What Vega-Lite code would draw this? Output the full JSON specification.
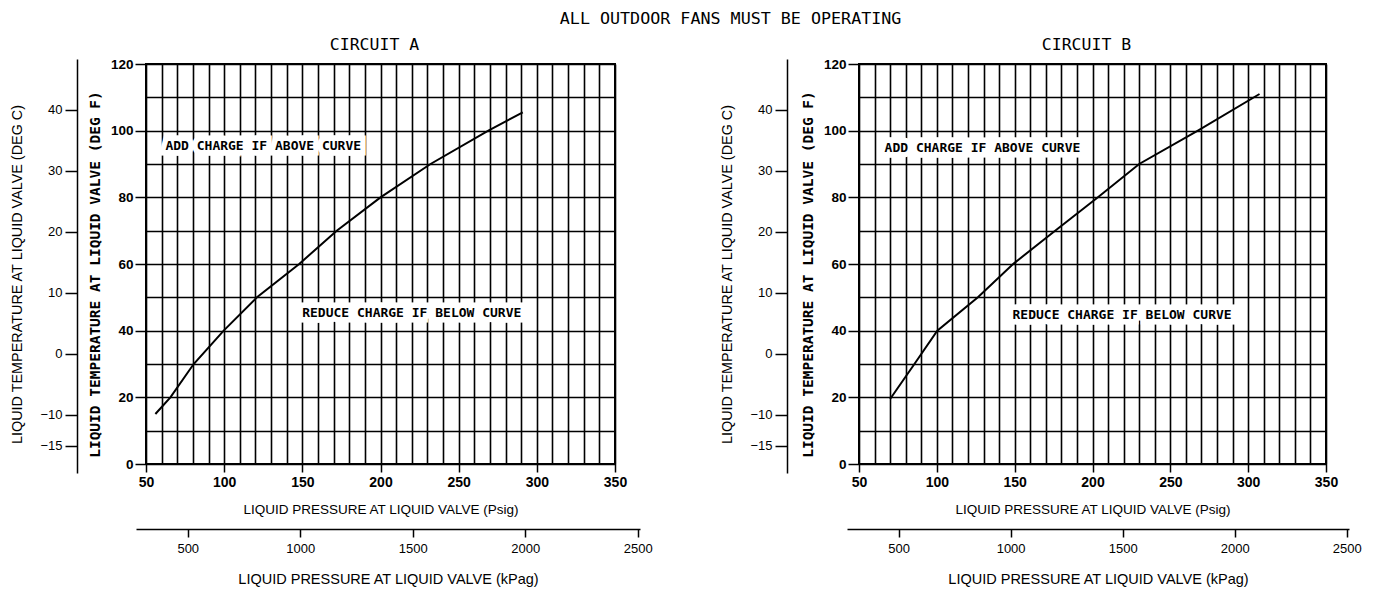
{
  "$schema": "https://vega.github.io/schema/vega-lite/v6.json",
  "background": "white",
  "padding": {"left": 8, "top": 10, "right": 5, "bottom": 5},
  "title": {"text": "ALL OUTDOOR FANS MUST BE OPERATING", "font": "DejaVu Sans Mono", "fontSize": 16.7, "fontWeight": "normal", "color": "black", "anchor": "middle", "dx": 45, "offset": 8.5},
  "config": {
    "view": {"stroke": "black", "strokeWidth": 2},
    "axis": {"labelColor": "black", "titleColor": "black", "tickColor": "black", "domainColor": "black", "tickWidth": 1.5, "domainWidth": 1.5}
  },
  "datasets": {
    "curve": [
      {"circuit": "A", "psig": 56, "degF": 15},
      {"circuit": "A", "psig": 65.6, "degF": 20},
      {"circuit": "A", "psig": 80.5, "degF": 30},
      {"circuit": "A", "psig": 99.7, "degF": 40},
      {"circuit": "A", "psig": 121, "degF": 50},
      {"circuit": "A", "psig": 148, "degF": 60},
      {"circuit": "A", "psig": 172, "degF": 70},
      {"circuit": "A", "psig": 200, "degF": 80},
      {"circuit": "A", "psig": 232, "degF": 90},
      {"circuit": "A", "psig": 269, "degF": 100},
      {"circuit": "A", "psig": 291, "degF": 105.5},
      {"circuit": "B", "psig": 70, "degF": 19.5},
      {"circuit": "B", "psig": 85.6, "degF": 30},
      {"circuit": "B", "psig": 100.3, "degF": 40},
      {"circuit": "B", "psig": 126.4, "degF": 50},
      {"circuit": "B", "psig": 149, "degF": 60},
      {"circuit": "B", "psig": 176, "degF": 70},
      {"circuit": "B", "psig": 203.5, "degF": 80},
      {"circuit": "B", "psig": 230, "degF": 90},
      {"circuit": "B", "psig": 267.7, "degF": 100},
      {"circuit": "B", "psig": 307.3, "degF": 111}
    ],
    "notes": [
      {"circuit": "A", "psig": 125, "degF": 95.4, "text": "ADD CHARGE IF ABOVE CURVE"},
      {"circuit": "A", "psig": 220, "degF": 45.3, "text": "REDUCE CHARGE IF BELOW CURVE"},
      {"circuit": "B", "psig": 129.3, "degF": 94.7, "text": "ADD CHARGE IF ABOVE CURVE"},
      {"circuit": "B", "psig": 219, "degF": 44.8, "text": "REDUCE CHARGE IF BELOW CURVE"}
    ],
    "degC": [{"c": -15}, {"c": 40}],
    "kpa": [{"kpa": 500}, {"kpa": 2500}]
  },
  "spacing": 64,
  "hconcat": [
    {
      "title": {"text": "CIRCUIT A", "font": "DejaVu Sans Mono", "fontSize": 16.5, "fontWeight": "normal", "color": "black", "offset": 3.5, "dx": -6},
      "width": 469,
      "height": 400,
      "layer": [
        {
          "layer": [
            {
              "data": {"name": "curve"},
              "transform": [{"filter": "datum.circuit === 'A'"}],
              "mark": {"type": "line", "color": "black", "strokeWidth": 2},
              "encoding": {
                "x": {"field": "psig", "type": "quantitative", "scale": {"domain": [50, 350], "nice": false, "zero": false},
                  "axis": {"values": [50,60,70,80,90,100,110,120,130,140,150,160,170,180,190,200,210,220,230,240,250,260,270,280,290,300,310,320,330,340,350], "tickCount": 200, "format": "d",
                    "grid": true, "gridColor": "black", "gridWidth": 1.6, "gridOpacity": 1, "domain": false,
                    "tickSize": {"condition": {"test": "datum.value % 50 === 0", "value": 8}, "value": 0},
                    "labelExpr": "datum.value % 50 === 0 ? datum.label : ''", "labelOverlap": false, "labelFlush": false,
                    "labelFont": "Liberation Sans", "labelFontWeight": "bold", "labelFontSize": 14, "labelPadding": 3,
                    "title": "LIQUID PRESSURE AT LIQUID VALVE (Psig)", "titleFont": "Liberation Sans", "titleFontWeight": "normal", "titleFontSize": 13.5, "titlePadding": 13}},
                "y": {"field": "degF", "type": "quantitative", "scale": {"domain": [0, 120], "nice": false, "zero": false},
                  "axis": {"values": [0,10,20,30,40,50,60,70,80,90,100,110,120], "tickCount": 200, "format": "d",
                    "grid": true, "gridColor": "black", "gridWidth": 1.6, "gridOpacity": 1, "domain": false,
                    "tickSize": {"condition": {"test": "datum.value % 20 === 0", "value": 11}, "value": 0},
                    "labelExpr": "datum.value % 20 === 0 ? datum.label : ''", "labelOverlap": false,
                    "labelFont": "Liberation Sans", "labelFontWeight": "bold", "labelFontSize": 13.5, "labelPadding": 2,
                    "title": "LIQUID TEMPERATURE AT LIQUID VALVE (DEG F)", "titleFont": "DejaVu Sans Mono", "titleFontWeight": "bold", "titleFontSize": 14.5, "titlePadding": 8, "titleY": 210}}
              }
            },
            {
              "data": {"name": "notes"},
              "transform": [{"filter": "datum.circuit === 'A'"}],
              "mark": {"type": "text", "font": "DejaVu Sans Mono", "fontWeight": "bold", "fontSize": 13, "fill": "white", "stroke": "white", "strokeWidth": 11},
              "encoding": {"x": {"field": "psig", "type": "quantitative"}, "y": {"field": "degF", "type": "quantitative"}, "text": {"field": "text"}}
            },
            {
              "data": {"name": "notes"},
              "transform": [{"filter": "datum.circuit === 'A'"}],
              "mark": {"type": "text", "font": "DejaVu Sans Mono", "fontWeight": "bold", "fontSize": 13, "fill": "black"},
              "encoding": {"x": {"field": "psig", "type": "quantitative"}, "y": {"field": "degF", "type": "quantitative"}, "text": {"field": "text"}}
            }
          ]
        },
        {
          "data": {"name": "degC"},
          "mark": {"type": "point", "opacity": 0},
          "encoding": {
            "y": {"field": "c", "type": "quantitative", "scale": {"domain": [-19.5, 48.3], "range": [409, -5], "nice": false, "zero": false},
              "axis": {"orient": "left", "offset": 69, "values": [-15,-10,0,10,20,30,40], "tickCount": 100, "format": "d", "grid": false, "tickSize": 12,
                "labelFont": "Liberation Sans", "labelFontSize": 13, "labelPadding": 3,
                "title": "LIQUID TEMPERATURE AT LIQUID VALVE (DEG C)", "titleFont": "Liberation Sans", "titleFontWeight": "normal", "titleFontSize": 14.4, "titlePadding": 15, "titleY": 210}}
          }
        },
        {
          "data": {"name": "kpa"},
          "mark": {"type": "point", "opacity": 0},
          "encoding": {
            "x": {"field": "kpa", "type": "quantitative", "scale": {"domain": [270, 2510], "range": [-10, 494], "nice": false, "zero": false},
              "axis": {"orient": "bottom", "offset": 65, "values": [500,1000,1500,2000,2500], "tickCount": 100, "format": "d", "grid": false, "tickSize": 8, "labelFlush": false,
                "labelFont": "Liberation Sans", "labelFontSize": 13, "labelPadding": 5,
                "title": "LIQUID PRESSURE AT LIQUID VALVE (kPag)", "titleFont": "Liberation Sans", "titleFontWeight": "normal", "titleFontSize": 14.5, "titlePadding": 17}}
          }
        }
      ],
      "resolve": {"scale": {"x": "independent", "y": "independent"}}
    },
    {
      "title": {"text": "CIRCUIT B", "font": "DejaVu Sans Mono", "fontSize": 16.5, "fontWeight": "normal", "color": "black", "offset": 3.5, "dx": -6},
      "width": 467,
      "height": 400,
      "layer": [
        {
          "layer": [
            {
              "data": {"name": "curve"},
              "transform": [{"filter": "datum.circuit === 'B'"}],
              "mark": {"type": "line", "color": "black", "strokeWidth": 2},
              "encoding": {
                "x": {"field": "psig", "type": "quantitative", "scale": {"domain": [50, 350], "nice": false, "zero": false},
                  "axis": {"values": [50,60,70,80,90,100,110,120,130,140,150,160,170,180,190,200,210,220,230,240,250,260,270,280,290,300,310,320,330,340,350], "tickCount": 200, "format": "d",
                    "grid": true, "gridColor": "black", "gridWidth": 1.6, "gridOpacity": 1, "domain": false,
                    "tickSize": {"condition": {"test": "datum.value % 50 === 0", "value": 8}, "value": 0},
                    "labelExpr": "datum.value % 50 === 0 ? datum.label : ''", "labelOverlap": false, "labelFlush": false,
                    "labelFont": "Liberation Sans", "labelFontWeight": "bold", "labelFontSize": 14, "labelPadding": 3,
                    "title": "LIQUID PRESSURE AT LIQUID VALVE (Psig)", "titleFont": "Liberation Sans", "titleFontWeight": "normal", "titleFontSize": 13.5, "titlePadding": 13}},
                "y": {"field": "degF", "type": "quantitative", "scale": {"domain": [0, 120], "nice": false, "zero": false},
                  "axis": {"values": [0,10,20,30,40,50,60,70,80,90,100,110,120], "tickCount": 200, "format": "d",
                    "grid": true, "gridColor": "black", "gridWidth": 1.6, "gridOpacity": 1, "domain": false,
                    "tickSize": {"condition": {"test": "datum.value % 20 === 0", "value": 11}, "value": 0},
                    "labelExpr": "datum.value % 20 === 0 ? datum.label : ''", "labelOverlap": false,
                    "labelFont": "Liberation Sans", "labelFontWeight": "bold", "labelFontSize": 13.5, "labelPadding": 2,
                    "title": "LIQUID TEMPERATURE AT LIQUID VALVE (DEG F)", "titleFont": "DejaVu Sans Mono", "titleFontWeight": "bold", "titleFontSize": 14.5, "titlePadding": 8, "titleY": 210}}
              }
            },
            {
              "data": {"name": "notes"},
              "transform": [{"filter": "datum.circuit === 'B'"}],
              "mark": {"type": "text", "font": "DejaVu Sans Mono", "fontWeight": "bold", "fontSize": 13, "fill": "white", "stroke": "white", "strokeWidth": 11},
              "encoding": {"x": {"field": "psig", "type": "quantitative"}, "y": {"field": "degF", "type": "quantitative"}, "text": {"field": "text"}}
            },
            {
              "data": {"name": "notes"},
              "transform": [{"filter": "datum.circuit === 'B'"}],
              "mark": {"type": "text", "font": "DejaVu Sans Mono", "fontWeight": "bold", "fontSize": 13, "fill": "black"},
              "encoding": {"x": {"field": "psig", "type": "quantitative"}, "y": {"field": "degF", "type": "quantitative"}, "text": {"field": "text"}}
            }
          ]
        },
        {
          "data": {"name": "degC"},
          "mark": {"type": "point", "opacity": 0},
          "encoding": {
            "y": {"field": "c", "type": "quantitative", "scale": {"domain": [-19.5, 48.3], "range": [409, -5], "nice": false, "zero": false},
              "axis": {"orient": "left", "offset": 72, "values": [-15,-10,0,10,20,30,40], "tickCount": 100, "format": "d", "grid": false, "tickSize": 12,
                "labelFont": "Liberation Sans", "labelFontSize": 13, "labelPadding": 3,
                "title": "LIQUID TEMPERATURE AT LIQUID VALVE (DEG C)", "titleFont": "Liberation Sans", "titleFontWeight": "normal", "titleFontSize": 14.4, "titlePadding": 15, "titleY": 210}}
          }
        },
        {
          "data": {"name": "kpa"},
          "mark": {"type": "point", "opacity": 0},
          "encoding": {
            "x": {"field": "kpa", "type": "quantitative", "scale": {"domain": [270, 2510], "range": [-12, 490], "nice": false, "zero": false},
              "axis": {"orient": "bottom", "offset": 65, "values": [500,1000,1500,2000,2500], "tickCount": 100, "format": "d", "grid": false, "tickSize": 8, "labelFlush": false,
                "labelFont": "Liberation Sans", "labelFontSize": 13, "labelPadding": 5,
                "title": "LIQUID PRESSURE AT LIQUID VALVE (kPag)", "titleFont": "Liberation Sans", "titleFontWeight": "normal", "titleFontSize": 14.5, "titlePadding": 17}}
          }
        }
      ],
      "resolve": {"scale": {"x": "independent", "y": "independent"}}
    }
  ]
}
